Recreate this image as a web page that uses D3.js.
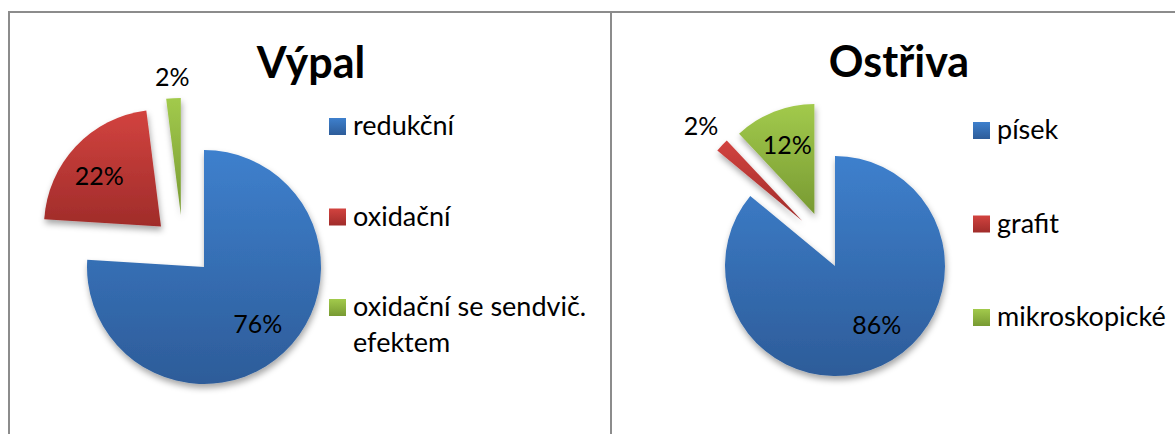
<!DOCTYPE html>
<html>
<head>
<meta charset="utf-8">
<script src="https://cdn.jsdelivr.net/npm/d3@7"></script>
<style>
  html, body { margin: 0; padding: 0; background: #fff; }
  text { font-family: Lato, "Open Sans", sans-serif; fill: #000; }
</style>
</head>
<body>
<div id="chart"></div>
<script>
// data
const vypalTitle = "Výpal";
const vypalCategories = ["redukční", "oxidační", "oxidační se sendvič. efektem"];
const vypalValues = [76, 22, 2];

const ostrivaTitle = "Ostřiva";
const ostrivaCategories = ["písek", "grafit", "mikroskopické"];
const ostrivaValues = [86, 2, 12];

// colours (top, bottom of the gradient)
const sliceColors = [
  ["#3e80cd", "#2d5c99"],
  ["#d2433f", "#a02c2a"],
  ["#a2ca4c", "#789a32"]
];

const W = 1175, H = 434;

const svg = d3.select("#chart").append("svg")
  .attr("width", W)
  .attr("height", H);

const defs = svg.append("defs");

sliceColors.forEach((c, i) => {
  const g = defs.append("linearGradient")
    .attr("id", "grad" + i)
    .attr("x1", 0).attr("y1", 0).attr("x2", 0).attr("y2", 1);
  g.append("stop").attr("offset", "0%").attr("stop-color", c[0]);
  g.append("stop").attr("offset", "100%").attr("stop-color", c[1]);
});

const shadow = defs.append("filter")
  .attr("id", "shadow")
  .attr("x", "-20%").attr("y", "-20%")
  .attr("width", "140%").attr("height", "140%");
shadow.append("feDropShadow")
  .attr("dx", 1).attr("dy", 4)
  .attr("stdDeviation", 3)
  .attr("flood-color", "#000")
  .attr("flood-opacity", 0.35);

// table frame
const frame = svg.append("g")
  .attr("stroke", "#8c8c8c")
  .attr("stroke-width", 2);
frame.append("line").attr("x1", 8).attr("x2", W).attr("y1", 12).attr("y2", 12);
frame.append("line").attr("x1", 9).attr("x2", 9).attr("y1", 11).attr("y2", H);
frame.append("line").attr("x1", 611).attr("x2", 611).attr("y1", 11).attr("y2", H);

// break a legend label into lines no wider than maxWidth
function wrap(textSel, maxWidth, lineHeight) {
  textSel.each(function () {
    const t = d3.select(this);
    const words = t.text().split(" ");
    const x = t.attr("x");
    t.text(null);
    let line = [];
    let tspan = t.append("tspan").attr("x", x).attr("dy", 0);
    words.forEach(w => {
      line.push(w);
      tspan.text(line.join(" "));
      if (tspan.node().getComputedTextLength() > maxWidth && line.length > 1) {
        line.pop();
        tspan.text(line.join(" "));
        line = [w];
        tspan = t.append("tspan").attr("x", x).attr("dy", lineHeight).text(w);
      }
    });
  });
}

function drawPie(opt) {
  const g = svg.append("g");

  g.append("text")
    .attr("x", opt.titleX)
    .attr("y", opt.titleY)
    .attr("text-anchor", "middle")
    .attr("font-size", 43)
    .attr("font-weight", "bold")
    .text(opt.title);

  const pie = d3.pie().sort(null).value(d => d);
  const arcs = pie(opt.values);
  const arc = d3.arc().innerRadius(0).outerRadius(opt.r);

  // exploded slices move out along their bisector (or a given direction)
  const offset = (d, i) => {
    const a = opt.explodeDir[i] != null ? opt.explodeDir[i] * Math.PI / 180 : (d.startAngle + d.endAngle) / 2;
    const dist = opt.explode[i];
    return [Math.sin(a) * dist, -Math.cos(a) * dist];
  };

  const slices = g.append("g")
    .attr("transform", `translate(${opt.cx},${opt.cy})`)
    .attr("filter", "url(#shadow)");

  slices.selectAll("path")
    .data(arcs)
    .join("path")
    .attr("transform", (d, i) => `translate(${offset(d, i)})`)
    .attr("d", arc)
    .attr("fill", (d, i) => `url(#grad${i})`);

  const labels = g.append("g")
    .attr("transform", `translate(${opt.cx},${opt.cy})`);

  labels.selectAll("text")
    .data(arcs)
    .join("text")
    .attr("transform", (d, i) => {
      const o = offset(d, i);
      const a = (d.startAngle + d.endAngle) / 2 + (opt.labelShift[i] || 0) * Math.PI / 180;
      const rr = opt.r * opt.labelR[i];
      return `translate(${o[0] + Math.sin(a) * rr},${o[1] - Math.cos(a) * rr})`;
    })
    .attr("text-anchor", "middle")
    .attr("dy", "0.36em")
    .attr("font-size", 25)
    .text(d => d.data + "%");

  const legend = g.append("g");
  const item = legend.selectAll("g")
    .data(opt.categories)
    .join("g")
    .attr("transform", (d, i) => `translate(${opt.legendX},${opt.legendY + i * opt.legendStep})`);

  item.append("rect")
    .attr("width", 17)
    .attr("height", 17)
    .attr("fill", (d, i) => `url(#grad${i})`);

  item.append("text")
    .attr("x", 24)
    .attr("y", 17)
    .attr("font-size", 27)
    .text(d => d)
    .call(wrap, 250, 36);
}

drawPie({
  title: vypalTitle, titleX: 311, titleY: 78,
  categories: vypalCategories, values: vypalValues,
  cx: 204, cy: 267, r: 117,
  explode: [0, 59, 57], explodeDir: [null, null, 336],
  labelR: [0.67, 0.68, 1.18], labelShift: [0, -4, 0],
  legendX: 329, legendY: 118, legendStep: 90.5
});

drawPie({
  title: ostrivaTitle, titleX: 899, titleY: 77,
  categories: ostrivaCategories, values: ostrivaValues,
  cx: 835, cy: 266, r: 110,
  explode: [0, 56, 56], explodeDir: [null, 324, null],
  labelR: [0.66, 1.26, 0.67], labelShift: [-10, 0, 0],
  legendX: 973, legendY: 122, legendStep: 93.5
});
</script>
</body>
</html>
